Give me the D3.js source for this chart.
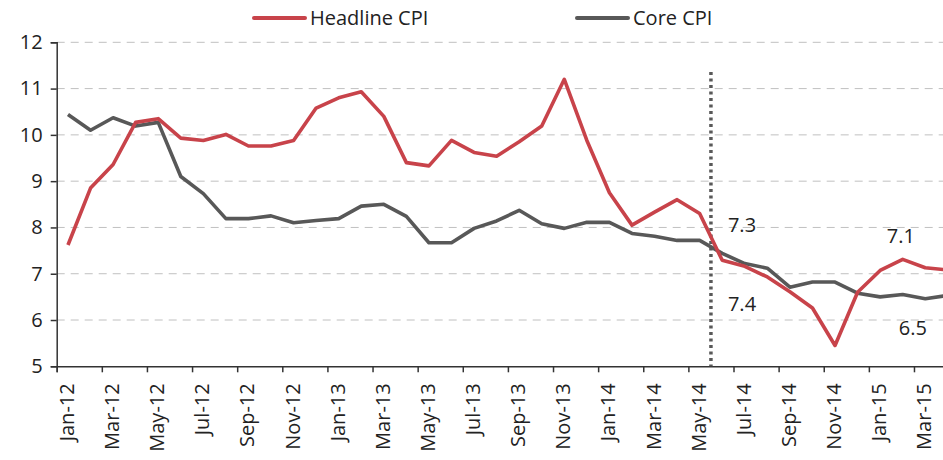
<!DOCTYPE html>
<html lang="en">
<head>
<meta charset="UTF-8">
<title>Headline vs Core CPI</title>
<script src="https://cdn.jsdelivr.net/npm/d3@7"></script>
<style>
  body { margin: 0; background: #ffffff; }
  svg { display: block; font-family: "Open Sans", "Noto Sans", sans-serif; }
</style>
</head>
<body>
<div id="chart"></div>
<script>
// months (Jan-12 .. Apr-15), the last one runs off the right edge
var months = ["Jan-12","Feb-12","Mar-12","Apr-12","May-12","Jun-12","Jul-12","Aug-12","Sep-12","Oct-12","Nov-12","Dec-12",
              "Jan-13","Feb-13","Mar-13","Apr-13","May-13","Jun-13","Jul-13","Aug-13","Sep-13","Oct-13","Nov-13","Dec-13",
              "Jan-14","Feb-14","Mar-14","Apr-14","May-14","Jun-14","Jul-14","Aug-14","Sep-14","Oct-14","Nov-14","Dec-14",
              "Jan-15","Feb-15","Mar-15","Apr-15"];

var headline = [7.62, 8.85, 9.36, 10.27, 10.35, 9.93, 9.88, 10.01, 9.76, 9.76, 9.88, 10.58,
                10.80, 10.93, 10.40, 9.40, 9.33, 9.88, 9.62, 9.54, 9.85, 10.19, 11.20, 9.88,
                8.75, 8.05, 8.33, 8.60, 8.30, 7.29, 7.16, 6.93, 6.61, 6.26, 5.45, 6.60,
                7.07, 7.31, 7.13, 7.08];

var core = [10.44, 10.10, 10.37, 10.19, 10.27, 9.10, 8.73, 8.19, 8.19, 8.25, 8.10, 8.15,
            8.19, 8.46, 8.50, 8.24, 7.67, 7.67, 7.98, 8.14, 8.37, 8.08, 7.98, 8.11,
            8.11, 7.87, 7.81, 7.72, 7.72, 7.44, 7.22, 7.12, 6.71, 6.82, 6.82, 6.58,
            6.50, 6.55, 6.46, 6.53];

var yTicks = [5, 6, 7, 8, 9, 10, 11, 12];
var seriesNames = ["Headline CPI", "Core CPI"];
var markerMonth = "Jun-14";   // dotted divider sits at the start of this month
var notes = [
    {text: "7.3", month: "Jun-14", value: 7.90},
    {text: "7.4", month: "Jun-14", value: 6.19},
    {text: "7.1", month: "Jan-15", value: 7.66},
    {text: "6.5", month: "Jan-15", value: 5.68}
];
var noteShift = [17, 17, 18, 30];   // px right of the month's left edge

var W = 943, H = 460;
var colors = {"Headline CPI": "#c8434a", "Core CPI": "#585858"};

var svg = d3.select("#chart").append("svg")
    .attr("width", W)
    .attr("height", H);

// x: month index, each month is one band, plot continues past the edge
var x = d3.scaleLinear()
    .domain([0, months.length])
    .range([56.7, 56.7 + months.length * 22.56]);

var y = d3.scaleLinear()
    .domain([5, 12])
    .range([366.3, 42.3]);

// gridlines
svg.append("g")
    .selectAll("line")
    .data(yTicks.filter(function(d) { return d > 5; }))
    .enter()
    .append("line")
        .attr("x1", x(0))
        .attr("x2", W)
        .attr("y1", function(d) { return y(d); })
        .attr("y2", function(d) { return y(d); })
        .attr("stroke", "#c0c0c0")
        .attr("stroke-width", 1)
        .attr("stroke-dasharray", "8,6");

// y axis
var yAxis = svg.append("g")
    .attr("transform", "translate(" + x(0) + ",0)")
    .call(d3.axisLeft(y).tickValues(yTicks).tickSize(6).tickPadding(8).tickFormat(d3.format("d")));
yAxis.select(".domain").attr("stroke", "#333").attr("stroke-width", 1.5);
yAxis.selectAll(".tick line").attr("stroke", "#333").attr("stroke-width", 1.5);
yAxis.selectAll("text")
    .attr("fill", "#222")
    .style("font-size", "20px")
    .style("font-family", "'Open Sans', sans-serif");

// x axis: ticks every two months at the start of the band
var evenIdx = d3.range(0, months.length, 2);
var xAxis = svg.append("g")
    .attr("transform", "translate(0," + y(5) + ")")
    .call(d3.axisBottom(x).tickValues(evenIdx).tickSize(6).tickFormat(""));
xAxis.select(".domain").attr("stroke", "#333").attr("stroke-width", 1.5);
xAxis.selectAll(".tick line").attr("stroke", "#333").attr("stroke-width", 1.5);

svg.append("g")
    .selectAll("text")
    .data(evenIdx)
    .enter()
    .append("text")
        .attr("transform", function(i) {
            return "translate(" + (x(i + 0.5) + 6) + "," + (y(5) + 17) + ")rotate(-90)";
        })
        .attr("text-anchor", "end")
        .attr("fill", "#222")
        .style("font-size", "20px")
        .text(function(i) { return months[i]; });

// dotted divider
var mi = months.indexOf(markerMonth);
svg.append("line")
    .attr("x1", x(mi))
    .attr("x2", x(mi))
    .attr("y1", y(11.36))
    .attr("y2", y(5))
    .attr("stroke", "#595959")
    .attr("stroke-width", 3.5)
    .attr("stroke-dasharray", "3,3.5");

// lines
var line = d3.line()
    .x(function(d, i) { return x(i + 0.5); })
    .y(function(d) { return y(d); });

[[core, "Core CPI"], [headline, "Headline CPI"]].forEach(function(s) {
    svg.append("path")
        .datum(s[0])
        .attr("fill", "none")
        .attr("stroke", colors[s[1]])
        .attr("stroke-width", 3.6)
        .attr("stroke-linejoin", "round")
        .attr("d", line);
});

// notes
svg.append("g")
    .selectAll("text")
    .data(notes)
    .enter()
    .append("text")
        .attr("x", function(d, i) { return x(months.indexOf(d.month)) + noteShift[i]; })
        .attr("y", function(d) { return y(d.value); })
        .attr("fill", "#222")
        .style("font-size", "20px")
        .text(function(d) { return d.text; });

// legend
var legendX = [254, 577];
var legend = svg.append("g")
    .selectAll("g")
    .data(seriesNames)
    .enter()
    .append("g")
        .attr("transform", function(d, i) { return "translate(" + legendX[i] + ",18)"; });
legend.append("line")
    .attr("x1", 0)
    .attr("x2", 51)
    .attr("stroke", function(d) { return colors[d]; })
    .attr("stroke-width", 4)
    .attr("stroke-linecap", "round");
legend.append("text")
    .attr("x", 56)
    .attr("dy", "0.35em")
    .attr("fill", "#222")
    .style("font-size", "20px")
    .text(function(d) { return d; });
</script>
</body>
</html>
